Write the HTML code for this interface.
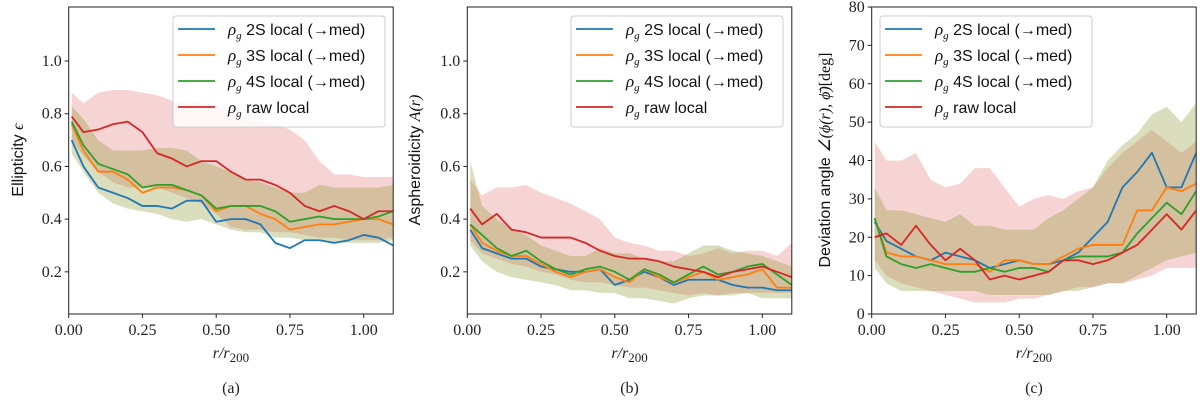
<!DOCTYPE html>
<html><head><meta charset="utf-8"><style>
body{margin:0;background:#fff;width:1200px;height:405px;overflow:hidden}
svg{display:block}
.tk{font-family:"Liberation Serif",serif;font-size:16px;fill:#222}
.lg{font-family:"Liberation Sans",sans-serif;font-size:16px;fill:#111}
</style></head><body>
<svg id="fig" width="1200" height="405"></svg>
<script>
const xs=[0.01,0.05,0.1,0.15,0.2,0.25,0.3,0.35,0.4,0.45,0.5,0.55,0.6,0.65,0.7,0.75,0.8,0.85,0.9,0.95,1.0,1.05,1.1];
const seriesNames=["2S local (\u2192med)","3S local (\u2192med)","4S local (\u2192med)","raw local"];
const xTicks=[0,0.25,0.5,0.75,1.0];
const xTickLabels=["0.00","0.25","0.50","0.75","1.00"];
const yTicksAB=[0.2,0.4,0.6,0.8,1.0];
const yTickLabelsAB=["0.2","0.4","0.6","0.8","1.0"];
const yTicksC=[0,10,20,30,40,50,60,70,80];
const yTickLabelsC=["0","10","20","30","40","50","60","70","80"];
// panel a
const aBlue=[.70,.60,.52,.50,.48,.45,.45,.44,.47,.47,.39,.40,.40,.38,.31,.29,.32,.32,.31,.32,.34,.33,.30];
const aOrange=[.76,.66,.58,.58,.55,.50,.52,.52,.51,.49,.43,.45,.45,.42,.40,.36,.37,.38,.38,.39,.40,.40,.38];
const aGreen=[.77,.68,.61,.59,.57,.52,.53,.53,.51,.49,.44,.45,.45,.45,.43,.39,.40,.41,.40,.40,.40,.41,.43];
const aRed=[.79,.73,.74,.76,.77,.73,.65,.63,.60,.62,.62,.58,.55,.55,.53,.50,.45,.43,.45,.43,.40,.43,.43];
const aGLo=[.65,.58,.50,.46,.44,.43,.42,.40,.39,.40,.38,.36,.35,.35,.33,.33,.32,.32,.31,.31,.31,.31,.32];
const aGHi=[.83,.78,.70,.66,.66,.66,.67,.67,.66,.62,.60,.58,.55,.54,.52,.50,.50,.53,.52,.52,.52,.52,.53];
const aRLo=[.70,.64,.58,.54,.52,.52,.52,.50,.48,.46,.42,.37,.36,.36,.35,.35,.34,.33,.33,.32,.32,.32,.33];
const aRHi=[.88,.84,.88,.89,.89,.88,.87,.85,.84,.84,.83,.80,.78,.77,.76,.74,.70,.62,.57,.57,.56,.56,.56];
// panel b
const bBlue=[.36,.29,.27,.25,.25,.22,.21,.20,.20,.21,.15,.17,.20,.18,.15,.17,.17,.17,.15,.14,.14,.13,.13];
const bOrange=[.38,.31,.28,.26,.26,.23,.20,.18,.20,.21,.18,.16,.21,.18,.16,.18,.20,.17,.18,.19,.21,.14,.14];
const bGreen=[.38,.34,.29,.26,.28,.24,.21,.19,.21,.22,.20,.17,.21,.19,.16,.19,.22,.19,.20,.22,.23,.19,.15];
const bRed=[.44,.38,.42,.36,.35,.33,.33,.33,.31,.28,.26,.25,.25,.24,.22,.21,.20,.18,.20,.21,.22,.20,.18];
const bGLo=[.30,.24,.20,.18,.17,.16,.15,.13,.13,.12,.12,.10,.10,.09,.08,.10,.11,.11,.11,.12,.10,.10,.10];
const bGHi=[.62,.45,.40,.36,.34,.30,.28,.26,.26,.29,.27,.27,.25,.24,.24,.27,.30,.30,.28,.27,.26,.24,.22];
const bRLo=[.32,.27,.25,.23,.22,.20,.19,.17,.16,.16,.15,.14,.14,.13,.12,.11,.12,.11,.12,.12,.12,.12,.12];
const bRHi=[.55,.49,.52,.52,.53,.50,.48,.46,.43,.40,.33,.31,.30,.28,.28,.26,.27,.29,.27,.28,.28,.26,.31];
// panel c
const cBlue=[24,19,17,15,14,16,15,14,12,13,14,13,13,14,16,20,24,33,37,42,33,33,42];
const cOrange=[25,16,15,15,14,13,13,13,11,14,14,13,13,15,17,18,18,18,27,27,33,32,34];
const cGreen=[25,15,13,12,13,12,11,11,12,11,12,12,11,14,15,15,15,16,21,25,29,26,32];
const cRed=[20,21,18,23,18,14,17,14,9,10,9,10,11,14,14,13,14,16,18,22,26,22,27];
const cGLo=[12,8,6,6,6,6,6,6,5,5,5,5,5,6,6,7,8,8,10,12,14,15,16];
const cGHi=[33,27,27,26,25,24,26,23,23,22,22,22,25,27,30,33,40,44,47,52,54,50,55];
const cRLo=[14,10,8,7,6,5,4,3,3,3,4,4,5,6,7,7,8,8,9,10,12,12,12];
const cRHi=[45,40,40,42,35,33,34,38,38,33,28,30,31,30,32,33,38,42,45,48,45,42,45];

const NS="http://www.w3.org/2000/svg";
const fig=document.getElementById('fig');
const COLS=["#1f77b4","#ff7f0e","#2ca02c","#d62728"];
function mk(tag,attrs,parent){const e=document.createElementNS(NS,tag);for(const k in attrs)e.setAttribute(k,attrs[k]);(parent||fig).appendChild(e);return e;}

function panel(p){
  const g=mk('g',{});
  
  
  const L=p.left,R=p.left+324.5,T=7,B=314;
  const sx=v=>L+(v-0)/(1.1)*(R-L);
  const sy=v=>B-(v-p.ymin)/(p.ymax-p.ymin)*(B-T);
  const clip='clip'+p.id;
  const cp=mk('clipPath',{id:clip},g);mk('rect',{x:L,y:T,width:R-L,height:B-T},cp);
  const inner=mk('g',{'clip-path':'url(#'+clip+')'},g);
  function band(lo,hi,col,op,name){
    let d='M'+xs.map((x,i)=>sx(x)+','+sy(hi[i])).join('L');
    for(let i=xs.length-1;i>=0;i--)d+='L'+sx(xs[i])+','+sy(lo[i]);
    const e=mk('path',{d:d+'Z',fill:col,'fill-opacity':op,stroke:'none'},inner);
    
    
  }
  band(p.rlo,p.rhi,COLS[3],0.2,'raw-band');
  band(p.glo,p.ghi,COLS[2],0.2,'smoothed-band');
  band(p.glo,p.ghi,COLS[1],0.12,'smoothed-band-overlay');
  const keys=['blue-2s','orange-3s','green-4s','red-raw'];
  p.series.forEach((s,k)=>{
    const e=mk('polyline',{points:xs.map((x,i)=>sx(x)+','+sy(s[i])).join(' '),fill:'none',stroke:COLS[k],'stroke-width':1.8,'stroke-linejoin':'round'},inner);
    
    
  });
  mk('rect',{x:L,y:T,width:R-L,height:B-T,fill:'none',stroke:'#222','stroke-width':1},g);
  xTicks.forEach((t,i)=>{
    mk('line',{x1:sx(t),x2:sx(t),y1:B,y2:B+4,stroke:'#222'},g);
    const e=mk('text',{x:sx(t),y:B+21,'text-anchor':'middle',class:'tk'},g);e.textContent=xTickLabels[i];
    
    
  });
  p.yt.forEach((t,i)=>{
    mk('line',{x1:L-4,x2:L,y1:sy(t),y2:sy(t),stroke:'#222'},g);
    const e=mk('text',{x:L-7,y:sy(t)+5,'text-anchor':'end',class:'tk'},g);e.textContent=p.ytl[i];
    
    
  });
  const xl=mk('text',{x:(L+R)/2,y:358,'text-anchor':'middle',class:'tk','font-style':'italic','font-size':18},g);
  xl.innerHTML='r/r<tspan font-size="13" dy="4" font-style="normal">200</tspan>';
  
  
  const cap=mk('text',{x:(L+R)/2,y:393,'text-anchor':'middle',class:'tk','font-size':17},g);cap.textContent='('+p.id+')';
  
  
  const yl=mk('text',{x:0,y:0,transform:'translate('+p.ylx+','+p.yly+') rotate(-90)','text-anchor':'middle',class:'lg','font-size':17},g);
  yl.innerHTML=p.ylab;
  
  
  const lx=p.legX,ly=16;
  const lg=mk('g',{},g);
  
  
  mk('rect',{x:lx,y:ly,width:212,height:111,rx:3,fill:'#fff','fill-opacity':0.8,stroke:'#ccc'},lg);
  seriesNames.forEach((n,k)=>{
    const y=ly+13+k*26;
    mk('line',{x1:lx+5,x2:lx+42,y1:y,y2:y,stroke:COLS[k],'stroke-width':1.8},lg);
    const t=mk('text',{x:lx+55,y:y+6,class:'lg'},lg);
    t.innerHTML='<tspan font-family="Liberation Serif,serif" font-style="italic" font-size="17">ρ</tspan><tspan font-family="Liberation Serif,serif" font-style="italic" font-size="11" dy="4">g</tspan><tspan dy="-4"> '+n+'</tspan>';
    
    
  });
}
panel({id:'a',left:68.7,ymin:0.04,ymax:1.205,yt:yTicksAB,ytl:yTickLabelsAB,series:[aBlue,aOrange,aGreen,aRed],glo:aGLo,ghi:aGHi,rlo:aRLo,rhi:aRHi,ylab:'Ellipticity <tspan font-family="Liberation Serif,serif" font-style="italic">ϵ</tspan>',ylx:23,yly:160,legX:173});
panel({id:'b',left:467.3,ymin:0.04,ymax:1.205,yt:yTicksAB,ytl:yTickLabelsAB,series:[bBlue,bOrange,bGreen,bRed],glo:bGLo,ghi:bGHi,rlo:bRLo,rhi:bRHi,ylab:'Aspheroidicity <tspan font-family="Liberation Serif,serif" font-style="italic">A(r)</tspan>',ylx:420,yly:160,legX:571});
panel({id:'c',left:871.7,ymin:0,ymax:80,yt:yTicksC,ytl:yTickLabelsC,series:[cBlue,cOrange,cGreen,cRed],glo:cGLo,ghi:cGHi,rlo:cRLo,rhi:cRHi,ylab:'Deviation angle <tspan font-family="Liberation Serif,serif" font-style="italic">∠(ϕ(r), ϕ̄)</tspan><tspan font-family="Liberation Serif,serif">[deg]</tspan>',ylx:830,yly:160,legX:880});
</script>
</body></html>
